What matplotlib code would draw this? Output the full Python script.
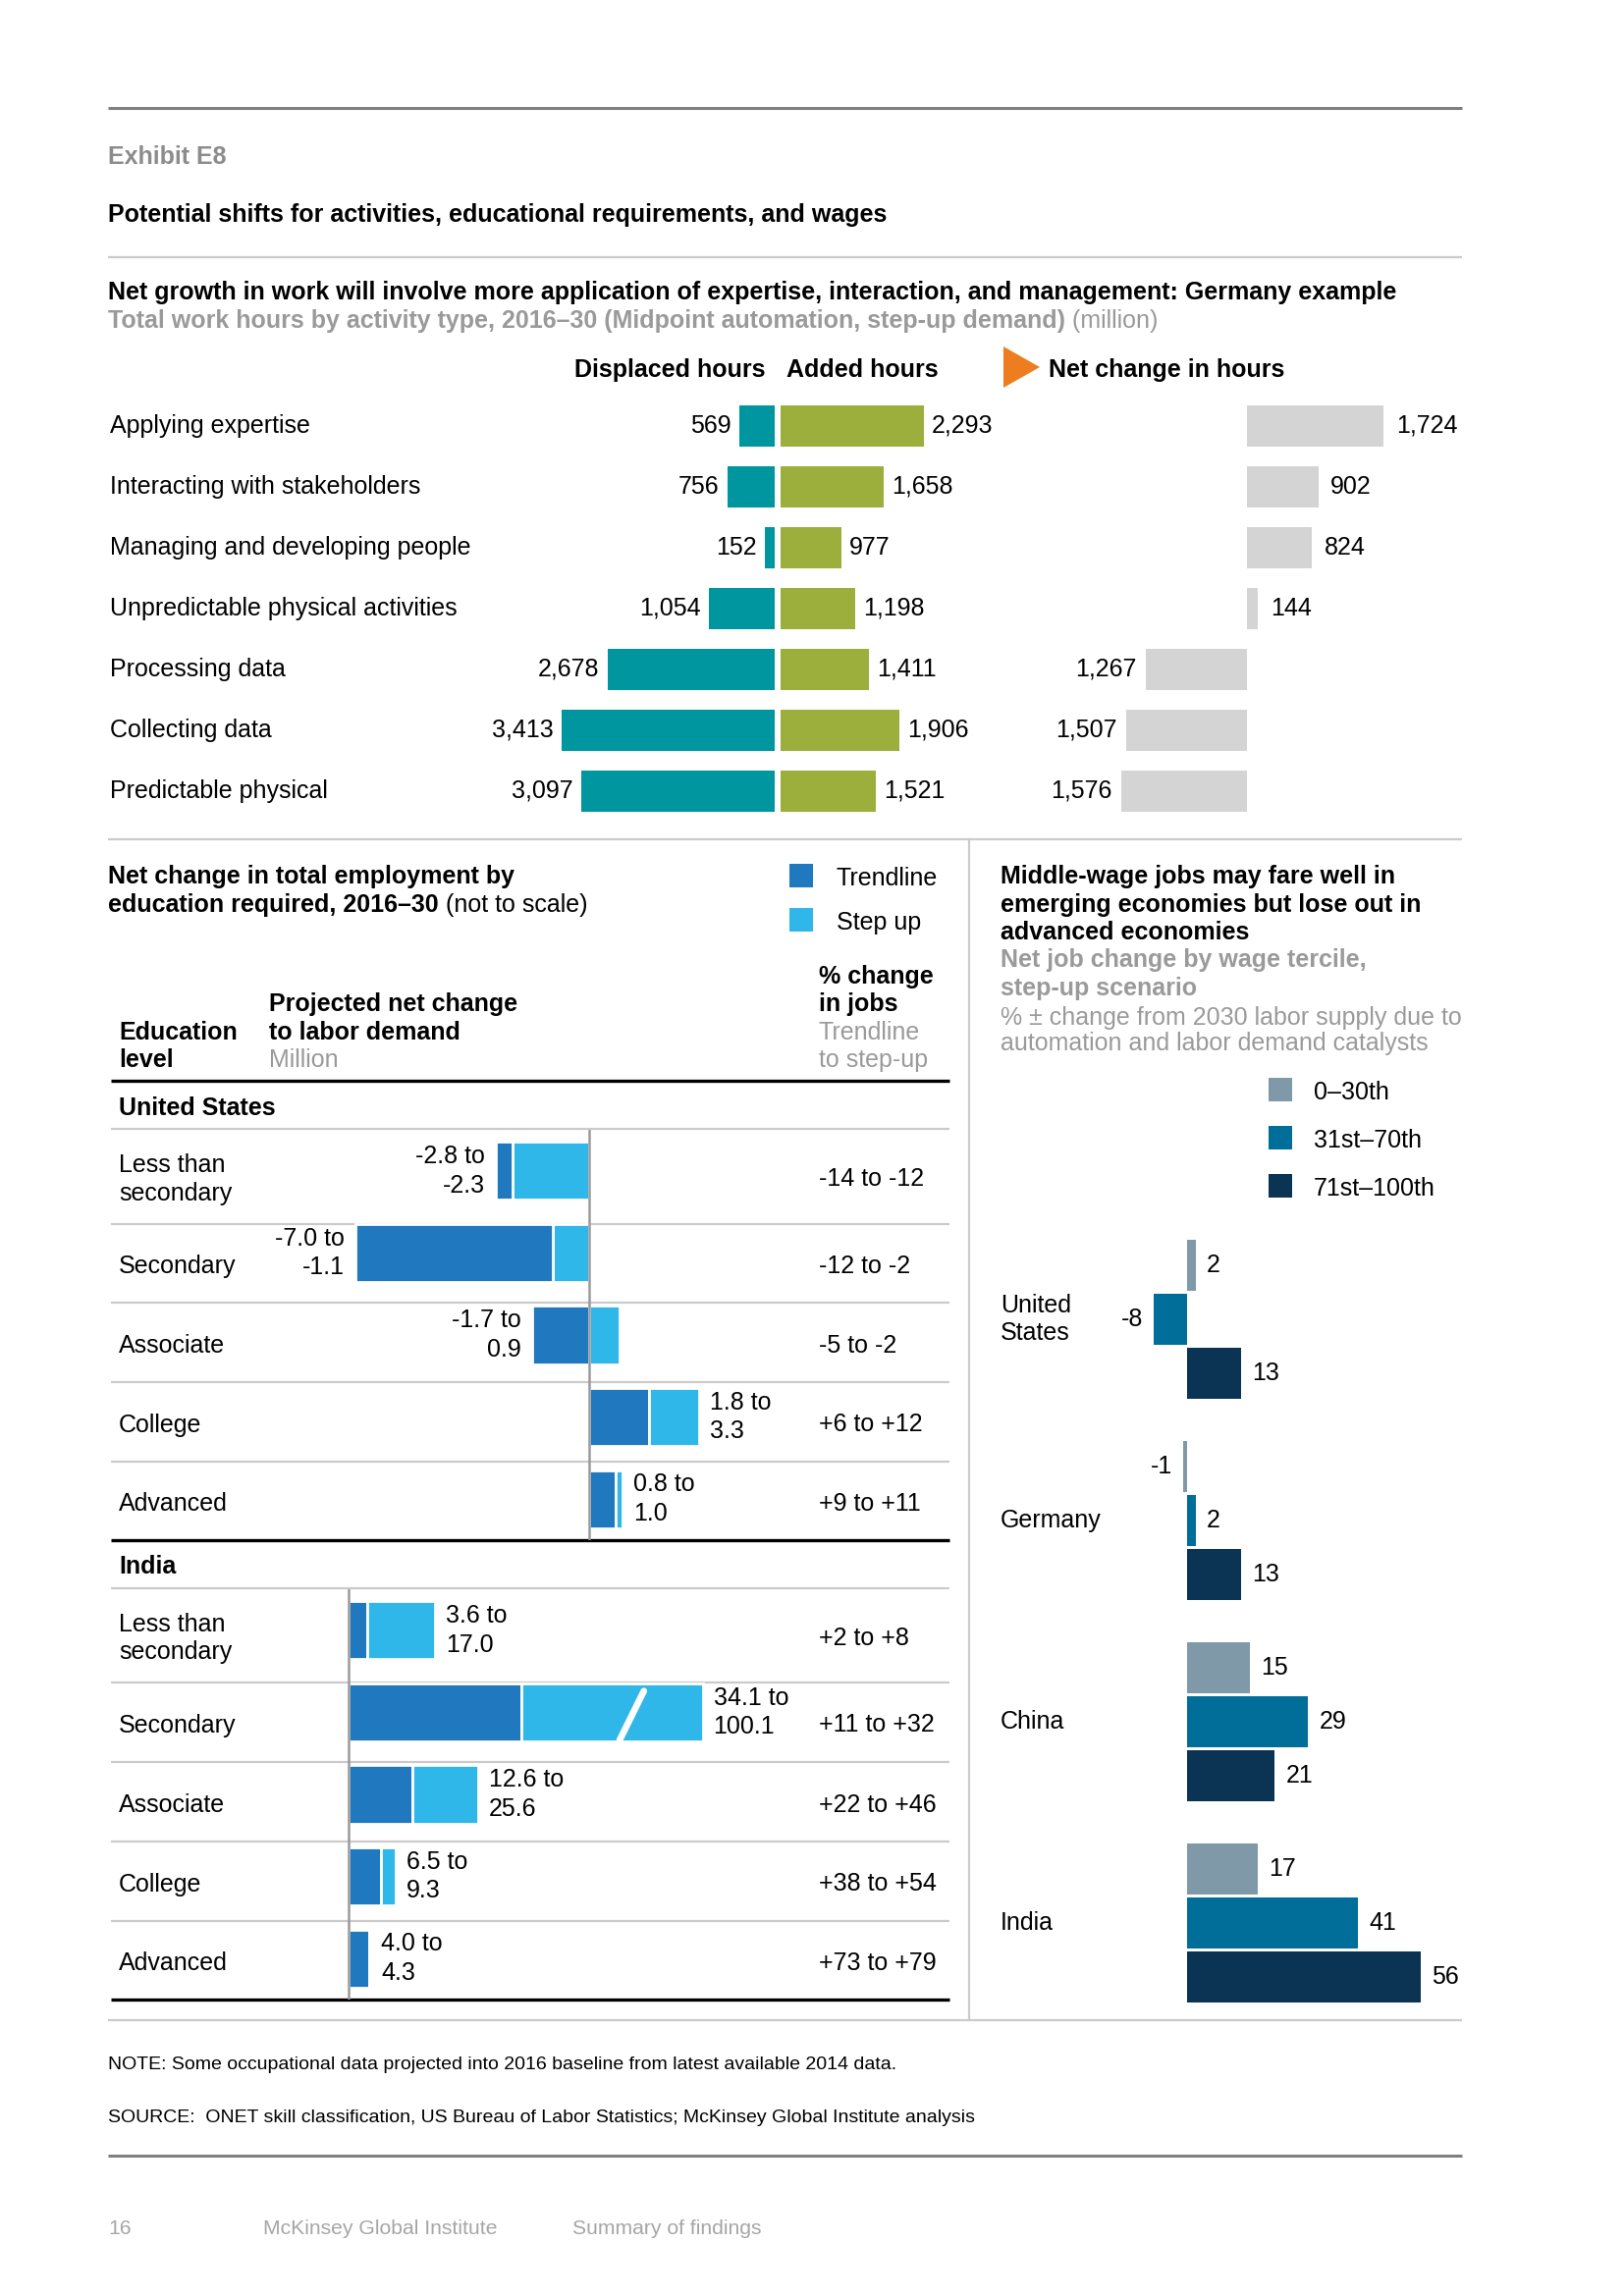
import matplotlib.pyplot as plt
from matplotlib.patches import Polygon, Rectangle
from matplotlib.transforms import blended_transform_factory

plt.rcParams["font.family"] = ["Liberation Sans", "DejaVu Sans"]

W, H, DPI = 1654, 2339, 200
DY = 3  # nudge so text sits on the same visual centre as the reference

# ---- data -------------------------------------------------------------
activities = ["Applying expertise", "Interacting with stakeholders",
              "Managing and developing people", "Unpredictable physical activities",
              "Processing data", "Collecting data", "Predictable physical"]
displaced = [569, 756, 152, 1054, 2678, 3413, 3097]
added = [2293, 1658, 977, 1198, 1411, 1906, 1521]
net_change = [1724, 902, 824, 144, -1267, -1507, -1576]

edu_levels = ["Less than\nsecondary", "Secondary", "Associate", "College", "Advanced"]
us_trend = [-2.8, -7.0, -1.7, 1.8, 0.8]
us_stepup = [-2.3, -1.1, 0.9, 3.3, 1.0]
us_pct = ["-14 to -12", "-12 to -2", "-5 to -2", "+6 to +12", "+9 to +11"]
in_trend = [3.6, 34.1, 12.6, 6.5, 4.0]
in_stepup = [17.0, 100.1, 25.6, 9.3, 4.3]
in_pct = ["+2 to +8", "+11 to +32", "+22 to +46", "+38 to +54", "+73 to +79"]

countries = ["United\nStates", "Germany", "China", "India"]
terciles = ["0–30th", "31st–70th", "71st–100th"]
low_wage = [2, -1, 15, 17]
mid_wage = [-8, 2, 29, 41]
high_wage = [13, 13, 21, 56]

# ---- colours ------------------------------------------------------------
TEAL, OLIVE, NETGRAY, ORANGE = "#0096a0", "#9cae3c", "#d4d4d4", "#ee7d1f"
TREND, STEP = "#2079be", "#30b7e9"
TERC = ["#7f99a9", "#006e98", "#0b3353"]
GRAY_TXT, RULE = "#9a9a9a", "#cbcbcb"

fig = plt.figure(figsize=(W / DPI, H / DPI), dpi=DPI)
page = fig.add_axes([0, 0, 1, 1])
page.set_xlim(0, W)
page.set_ylim(H, 0)
page.axis("off")


def box(x0, y0, x1, y1, zero, scale):
    ax = fig.add_axes([x0 / W, 1 - y1 / H, (x1 - x0) / W, (y1 - y0) / H])
    ax.set_xlim((x0 - zero) / scale, (x1 - zero) / scale)
    ax.axis("off")
    return ax


def txt(x, y, s, size=9, weight="normal", color="black", **kw):
    return page.text(x, y + DY, s, fontsize=size, fontweight=weight, color=color,
                     va="center", ha=kw.pop("ha", "left"), **kw)


def run_text(x, y, parts, size=9):
    r = fig.canvas.get_renderer()
    for s, weight, color in parts:
        t = txt(x, y, s, size, weight, color)
        bb = t.get_window_extent(renderer=r)
        x = page.transData.inverted().transform((bb.x1, bb.y0))[0]


def hline(y, x0, x1, color=RULE, lw=0.8):
    page.plot([x0, x1], [y, y], color=color, lw=lw, solid_capstyle="butt")


# ---- header -------------------------------------------------------------
hline(110, 110, 1489, color="#808080", lw=1.1)
txt(110, 157, "Exhibit E8", weight="bold", color="#8c8c8c")
txt(110, 216, "Potential shifts for activities, educational requirements, and wages", weight="bold")
hline(262, 110, 1489)
txt(110, 295, "Net growth in work will involve more application of expertise, interaction, "
              "and management: Germany example", weight="bold")
run_text(110, 324, [("Total work hours by activity type, 2016–30 (Midpoint automation, "
                     "step-up demand)", "bold", GRAY_TXT), (" (million)", "normal", GRAY_TXT)])

# ---- top chart: displaced / added / net ----------------------------------
txt(585, 374, "Displaced hours", weight="bold")
txt(801, 374, "Added hours", weight="bold")
page.add_patch(Polygon([(1022, 353), (1022, 395), (1059, 374)], color=ORANGE, lw=0))
txt(1068, 374, "Net change in hours", weight="bold")

n = len(activities)
rows = range(n)
top_y0, top_y1 = 403, 837
ax_d = box(520, top_y0, 789, top_y1, zero=789, scale=0.0635)
ax_a = box(795, top_y0, 1040, top_y1, zero=795, scale=0.0635)
ax_n = box(1100, top_y0, 1489, top_y1, zero=1269.5, scale=0.081)
for ax in (ax_d, ax_a, ax_n):
    ax.set_ylim(n - 0.5, -0.5)

ax_d.barh(rows, [-v for v in displaced], height=0.68, color=TEAL)
ax_a.barh(rows, added, height=0.68, color=OLIVE)
ax_n.barh(rows, net_change, height=0.68, color=NETGRAY)
row_tf = blended_transform_factory(page.transData, ax_d.transData)
for i in rows:
    page.text(112, i, activities[i], transform=row_tf, fontsize=9, va="center")
    ax_d.annotate(f"{displaced[i]:,}", (-displaced[i], i), xytext=(-3, 0),
                  textcoords="offset points", ha="right", va="center", fontsize=9)
    ax_a.annotate(f"{added[i]:,}", (added[i], i), xytext=(3, 0),
                  textcoords="offset points", ha="left", va="center", fontsize=9)
    v = net_change[i]
    ax_n.annotate(f"{abs(v):,}", (v, i), xytext=(4.5 if v > 0 else -3.5, 0),
                  textcoords="offset points", ha="left" if v > 0 else "right",
                  va="center", fontsize=9)

hline(855, 110, 1489)
hline(2058, 110, 1489)
page.plot([987, 987], [855, 2058], color=RULE, lw=0.8)

# ---- bottom left: employment by education --------------------------------
txt(110, 890, "Net change in total employment by", weight="bold")
run_text(110, 919, [("education required, 2016–30", "bold", "black"),
                    (" (not to scale)", "normal", "black")])
page.add_patch(Rectangle((804, 880), 24, 24, color=TREND, lw=0))
page.add_patch(Rectangle((804, 925), 24, 24, color=STEP, lw=0))
txt(852, 892, "Trendline")
txt(852, 937, "Step up")

txt(121, 1049, "Education", weight="bold")
txt(121, 1077, "level", weight="bold")
txt(274, 1020, "Projected net change", weight="bold")
txt(274, 1049, "to labor demand", weight="bold")
txt(274, 1077, "Million", color=GRAY_TXT)
txt(834, 992, "% change", weight="bold")
txt(834, 1020, "in jobs", weight="bold")
txt(834, 1049, "Trendline", color=GRAY_TXT)
txt(834, 1077, "to step-up", color=GRAY_TXT)

us_rules = [1150, 1247, 1327, 1408, 1489, 1569]
in_rules = [1618, 1714, 1795, 1876, 1957, 2037]
hline(1101, 113, 967, color="black", lw=1.2)
txt(121, 1126, "United States", weight="bold")
txt(121, 1593, "India", weight="bold")
for rules in (us_rules, in_rules):
    for y in rules[:-1]:
        hline(y, 113, 967)
    hline(rules[-1], 113, 967, color="black", lw=1.2)


def range_bars(ax, trend, stepup, cap=None):
    for i, (t, s) in enumerate(zip(trend, stepup)):
        if t * s < 0:
            segs = [(0, t, TREND), (0, s, STEP)]
        elif abs(t) <= abs(s):
            segs = [(0, t, TREND), (t, s, STEP)]
        else:
            segs = [(0, s, STEP), (s, t, TREND)]
        for a, b, c in segs:
            if cap is not None:
                b = min(b, cap)
            ax.barh(i, b - a, left=a, height=0.71, color=c, edgecolor="white", linewidth=1.0)
        lo, hi = min(t, s, 0), max(t, s, 0)
        if cap is not None:
            hi = min(hi, cap)
        label = f"{t:.1f} to\n{s:.1f}"
        if lo < 0:
            ax.annotate(label, (lo, i), xytext=(-4, 0), textcoords="offset points",
                        ha="right", va="center", fontsize=9, linespacing=1.3,
                        multialignment="right")
        else:
            ax.annotate(label, (hi, i), xytext=(4, 0), textcoords="offset points",
                        ha="left", va="center", fontsize=9, linespacing=1.3)
    ax.axvline(0, color="#9a9a9a", lw=0.9, zorder=3)


m = len(edu_levels)
ax_us = box(360, 1151, 830, 1569, zero=600, scale=34)
ax_us.set_ylim(m - 0.5, -0.5)
range_bars(ax_us, us_trend, us_stepup)

ax_in = box(340, 1619, 830, 2037, zero=355, scale=5.15)
ax_in.set_ylim(m - 0.5, -0.5)
cap = 70
range_bars(ax_in, in_trend, in_stepup, cap=cap)
# axis break on the truncated bar
brk = in_stepup.index(max(in_stepup))
ax_in.plot([0.8 * cap - 2.4, 0.8 * cap + 2.4], [brk + 0.34, brk - 0.26],
           color="white", lw=2.4, zorder=4, solid_capstyle="round")

# row labels and % column sit in the middle of each ruled row
for rules, pct in ((us_rules, us_pct), (in_rules, in_pct)):
    for i in range(m):
        yc = (rules[i] + rules[i + 1]) / 2
        txt(121, yc, edu_levels[i], linespacing=1.25)
        txt(834, yc, pct[i])

# ---- right panel: wage terciles ------------------------------------------
txt(1019, 890, "Middle-wage jobs may fare well in", weight="bold")
txt(1019, 919, "emerging economies but lose out in", weight="bold")
txt(1019, 947, "advanced economies", weight="bold")
txt(1019, 975, "Net job change by wage tercile,", weight="bold", color=GRAY_TXT)
txt(1019, 1004, "step-up scenario", weight="bold", color=GRAY_TXT)
txt(1019, 1034, "% ± change from 2030 labor supply due to", color=GRAY_TXT)
txt(1019, 1060, "automation and labor demand catalysts", color=GRAY_TXT)
for k, (lab, col) in enumerate(zip(terciles, TERC)):
    yc = 1110 + 49 * k
    page.add_patch(Rectangle((1292, yc - 12), 24, 24, color=col, lw=0))
    txt(1338, yc, lab)

slot = 55.0
ax_w = box(1100, 1250, 1500, 2045, zero=1209, scale=4.25)
ax_w.set_ylim((2045 - 1344) / slot, (1250 - 1344) / slot)
group_gap = 205 / slot
tf_w = blended_transform_factory(page.transData, ax_w.transData)
for g, country in enumerate(countries):
    gy = g * group_gap
    for k, series in enumerate((low_wage, mid_wage, high_wage)):
        v = series[g]
        y = gy + k - 1
        ax_w.barh(y, v, height=0.95, color=TERC[k])
        ax_w.annotate(f"{v}", (v, y), xytext=(4 if v > 0 else -4, 0),
                      textcoords="offset points", ha="left" if v > 0 else "right",
                      va="center", fontsize=9)
    page.text(1019, gy, country, transform=tf_w, fontsize=9, va="center", linespacing=1.25)

# ---- footer ---------------------------------------------------------------
txt(110, 2101, "NOTE: Some occupational data projected into 2016 baseline from latest "
               "available 2014 data.", size=7)
txt(110, 2154, "SOURCE:  ONET skill classification, US Bureau of Labor Statistics; "
               "McKinsey Global Institute analysis", size=7)
hline(2196, 110, 1489, color="#808080", lw=1.1)
txt(110, 2267, "16", size=7.6, color="#a6a6a6")
txt(268, 2267, "McKinsey Global Institute", size=7.6, color="#a6a6a6")
txt(583, 2267, "Summary of findings", size=7.6, color="#a6a6a6")

fig.savefig("out.png", dpi=DPI)
